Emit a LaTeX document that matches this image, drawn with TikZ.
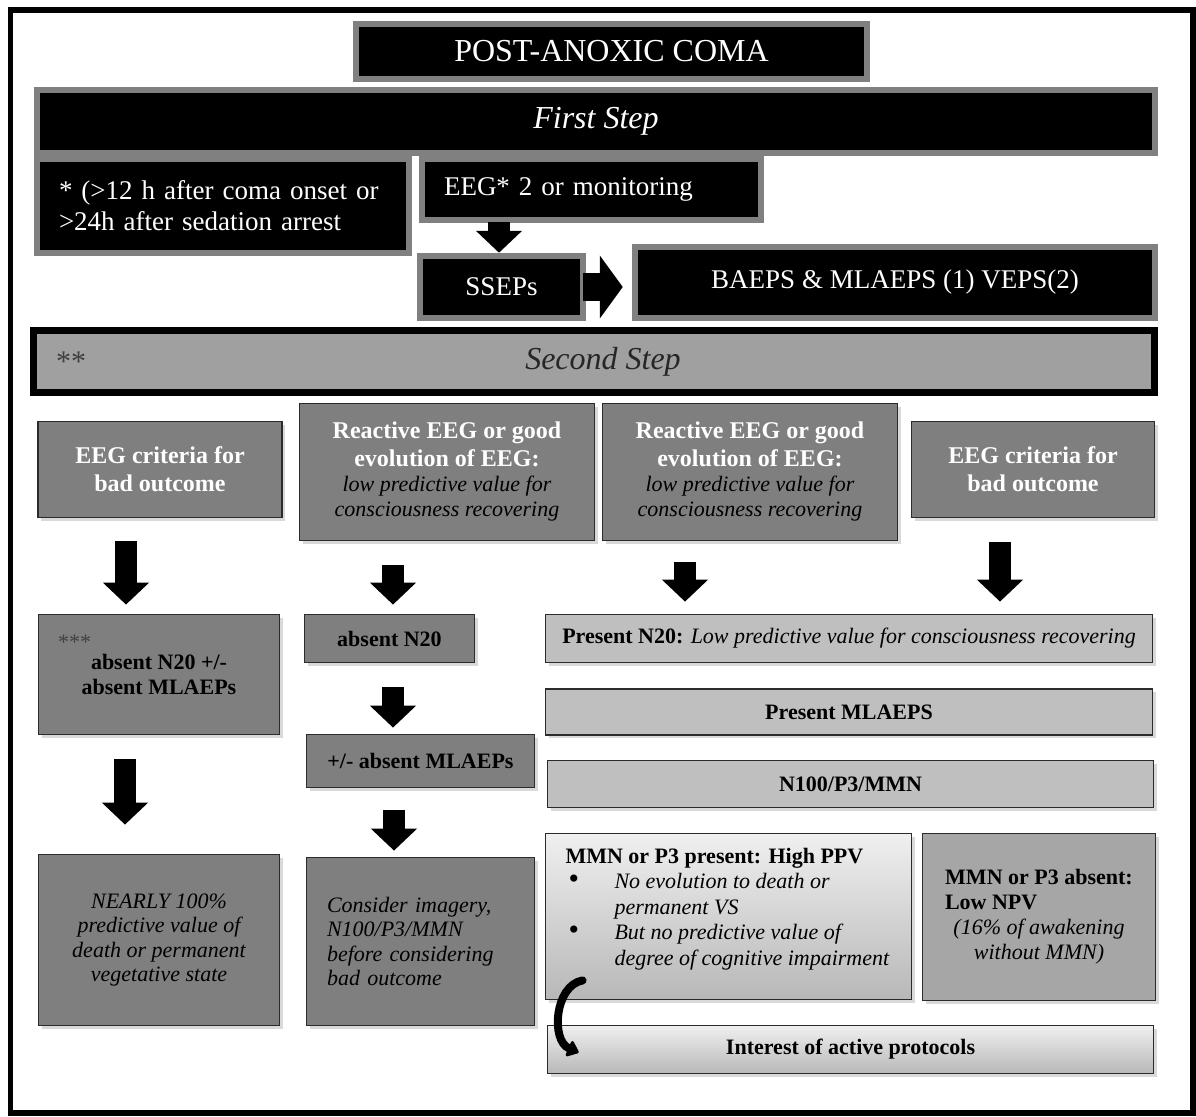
\documentclass[tikz,border=0pt]{standalone}
\usepackage{fontspec}
\setmainfont{Liberation Serif}
\usetikzlibrary{shadows,calc,arrows.meta}
\definecolor{boxgrey}{HTML}{7F7F7F}
\definecolor{lightgrey}{HTML}{BFBFBF}
\definecolor{midgrey}{HTML}{A6A6A6}
\definecolor{bargrey}{HTML}{A0A0A0}
\definecolor{edgegrey}{HTML}{2B2B2B}
\definecolor{rimgrey}{HTML}{808080}
\newcommand{\mywb}[1]{{\fontsize{24}{25}\selectfont\bfseries\color{white}#1}}
\newcommand{\mybul}{\hspace*{3pt}\makebox[46pt][l]{\fontsize{30}{25}\selectfont\textbullet}}
\begin{document}
\begin{tikzpicture}[x=1pt,y=-1pt,
  blackbox/.style={draw=rimgrey, line width=6.5pt, fill=black, text=white, inner sep=0pt,
    font=\fontsize{27}{31}\selectfont},
  greybox/.style={draw=edgegrey, line width=1.8pt, fill=boxgrey, inner sep=0pt,
    drop shadow={shadow xshift=3pt, shadow yshift=-3pt, opacity=0.3},
    font=\fontsize{22}{25}\selectfont, align=center},
  lightbox/.style={greybox, fill=lightgrey},
  gradbox/.style={greybox, top color=black!6, bottom color=black!28},
  barrow/.style={line width=22pt, -{Triangle[length=22pt,width=45pt]}},
  sidearrow/.style={line width=28pt, -{Triangle[length=23pt,width=62pt]}},
  curvearrow/.style={line width=8pt, line cap=round, -{Triangle[length=12pt,width=19pt,round]}},
  startext/.style={anchor=west, inner sep=0pt, text=black!75}
]
\useasboundingbox (0,0) rectangle (1196,1116);
\draw[line width=5.5pt] (10.5,10) rectangle (1193,1113);

% first step
\node[blackbox, minimum width=511pt, minimum height=55pt, font=\fontsize{32}{36}\selectfont] (title) at (611.5,51.5) {POST-ANOXIC COMA};
\node[blackbox, minimum width=1118pt, minimum height=63pt, font=\fontsize{32}{36}\selectfont\itshape] (first) at (596,121.5) {First Step};
\node[blackbox, minimum width=372pt, minimum height=94pt, text width=328pt, align=left] (crit) at (223,206) {* (>12 h after coma onset or\\>24h after sedation arrest};
\node[blackbox, minimum width=339pt, minimum height=61pt, text width=295pt, align=left] (eeg) at (591.5,189.5) {EEG* 2 or monitoring};
\node[blackbox, minimum width=163pt, minimum height=62pt] (sseps) at (501.5,287) {SSEPs};
\node[blackbox, minimum width=520pt, minimum height=71pt] (baeps) at (895,282.5) {\raisebox{4pt}{BAEPS \& MLAEPS (1) VEPS(2)}};

% second step
\node[draw=black, line width=7pt, fill=bargrey, minimum width=1121pt, minimum height=62pt, inner sep=0pt,
  font=\fontsize{32}{36}\selectfont\itshape, text=black!85] (second) at (594,361.5) {\hspace*{18pt}Second Step};
\node[startext, font=\fontsize{30}{30}\selectfont] (stars2) at (56,362) {**};

% row 1
\node[greybox, minimum width=244pt, minimum height=96pt] (critA) at (160,469.5) {\mywb{EEG criteria for}\\[3pt]\mywb{bad outcome}};
\node[greybox, minimum width=295pt, minimum height=137pt] (reactB) at (447,472) {\mywb{Reactive EEG or good}\\[3pt]\mywb{evolution of EEG:}\\\textit{low predictive value for}\\\textit{consciousness recovering}};
\node[greybox, minimum width=295pt, minimum height=137pt] (reactC) at (750,472) {\mywb{Reactive EEG or good}\\[3pt]\mywb{evolution of EEG:}\\\textit{low predictive value for}\\\textit{consciousness recovering}};
\node[greybox, minimum width=243pt, minimum height=96pt] (critD) at (1033,469.5) {\mywb{EEG criteria for}\\[3pt]\mywb{bad outcome}};

% row 2
\node[greybox, minimum width=241pt, minimum height=120pt] (absA) at (159,674.5) {\textbf{absent N20 +/-}\\\textbf{absent MLAEPs}};
\node[startext, font=\fontsize{22}{22}\selectfont] (stars3) at (58,642) {***};
\node[greybox, minimum width=170pt, minimum height=48pt] (absB) at (389.5,638.5) {\textbf{absent N20}};
\node[lightbox, minimum width=607pt, minimum height=48pt] (presN) at (849,638.5) {\textbf{Present N20:} \textit{Low predictive value for consciousness recovering}};
\node[greybox, minimum width=228pt, minimum height=53pt] (absML) at (420.5,761) {\textbf{+/- absent MLAEPs}};
\node[lightbox, minimum width=607pt, minimum height=46pt] (presML) at (849,712) {\textbf{Present MLAEPS}};
\node[lightbox, minimum width=606pt, minimum height=47pt] (nhun) at (850.5,784) {\textbf{N100/P3/MMN}};

% row 3
\node[greybox, minimum width=241pt, minimum height=171pt, font=\fontsize{22}{24.5}\selectfont\itshape] (nearly) at (159,940) {NEARLY 100\%\\predictive value of\\death or permanent\\vegetative state};
\node[greybox, minimum width=228pt, minimum height=168pt, text width=187pt, align=left, font=\fontsize{22}{24.5}\selectfont\itshape] (consider) at (420.5,941.5) {Consider imagery,\\N100/P3/MMN\\before considering\\bad outcome};
\node[gradbox, minimum width=366pt, minimum height=166pt] (mmnp) at (728.5,916.5) {\parbox[c][137pt][t]{326pt}{\raggedright\fontsize{22}{25.5}\selectfont
  \textbf{MMN or P3 present: High PPV}\\
  \mybul\textit{No evolution to death or}\\
  \hspace*{49pt}\textit{permanent VS}\\
  \mybul\textit{But no predictive value of}\\
  \hspace*{49pt}\textit{degree of cognitive impairment}}};
\node[greybox, fill=midgrey, minimum width=233pt, minimum height=167pt] (mmna) at (1039,917) {\textbf{MMN or P3 absent:}\\\makebox[188pt][l]{\textbf{Low NPV}}\\\textit{(16\% of awakening}\\\textit{without MMN)}};
\node[gradbox, minimum width=606pt, minimum height=48pt] (interest) at (850.5,1049.5) {\textbf{Interest of active protocols}};

% arrows
\draw[barrow] ($(eeg.south)+(-92.5,-1)$) -- ($(sseps.north)+(-2.5,0)$);
\draw[sidearrow] ($(sseps.east)+(-3,0)$) -- ($(baeps.west)+(-9,4.5)$);
\draw[barrow] ($(critA.south)+(-34,23)$) -- ($(absA.north)+(-33,-9)$);
\draw[barrow] ($(reactB.south)+(-54,24)$) -- ($(absB.north)+(3.5,-9)$);
\draw[barrow] ($(reactC.south)+(-65,21)$) -- ($(presN.north)+(-164,-12)$);
\draw[barrow] ($(critD.south)+(-33,24)$) -- ($(presN.north)+(151,-12)$);
\draw[barrow] ($(absB.south)+(3.5,24)$) -- ($(absML.north)+(-27.5,-6)$);
\draw[barrow] ($(absA.south)+(-34,24)$) -- ($(nearly.north)+(-34,-29)$);
\draw[barrow] ($(absML.south)+(-26.5,22)$) -- ($(consider.north)+(-26.5,-6)$);
\draw[curvearrow] ($(mmnp.south west)+(38,-20)$) .. controls +(-28,5) and +(-28,-12) .. ($(interest.west)+(32,3)$);
\end{tikzpicture}
\end{document}
